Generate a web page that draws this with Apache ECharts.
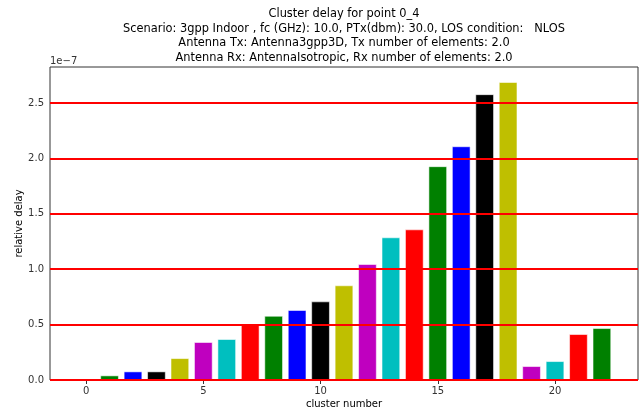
<!DOCTYPE html>
<html>
<head>
<meta charset="utf-8">
<script src="https://cdn.jsdelivr.net/npm/echarts@6/dist/echarts.min.js"></script>
<style>
  html, body { margin: 0; padding: 0; background: #fff; }
  #chart { width: 640px; height: 411px; }
</style>
</head>
<body>
<div id="chart"></div>
<script>
// cluster index and delay (units of 1e-7)
const clusters = [0, 1, 2, 3, 4, 5, 6, 7, 8, 9, 10, 11, 12, 13, 14, 15, 16, 17, 18, 19, 20, 21, 22];
const delays = [0, 0.042, 0.078, 0.078, 0.198, 0.343, 0.37, 0.505, 0.58, 0.632, 0.71,
  0.855, 1.047, 1.288, 1.36, 1.93, 2.11, 2.58, 2.69, 0.126, 0.171, 0.415, 0.469];
const colorCycle = ["#ff0000", "#008000", "#0000ff", "#000000", "#bfbf00", "#bf00bf", "#00bfbf"];
const xTicks = [0, 5, 10, 15, 20];
const refLines = [0, 0.5, 1.0, 1.5, 2.0, 2.5];
const titleLines = [
  "Cluster delay for point 0_4",
  "Scenario: 3gpp Indoor , fc (GHz): 10.0, PTx(dbm): 30.0, LOS condition:   NLOS",
  "Antenna Tx: Antenna3gpp3D, Tx number of elements: 2.0",
  "Antenna Rx: AntennaIsotropic, Rx number of elements: 2.0"
];

const grid = { left: 50, right: 2, top: 67, bottom: 31 };
const xMin = -1.54, xMax = 23.54;
const plotW = 640 - grid.left - grid.right;
const barPx = 0.8 * plotW / (xMax - xMin);

const font = "DejaVu Sans";
const chart = echarts.init(document.getElementById("chart"), null, { renderer: "canvas" });

chart.setOption({
  animation: false,
  backgroundColor: "#fff",
  textStyle: { fontFamily: font },
  grid: { ...grid, outerBoundsMode: "none", containLabel: false, show: true, borderColor: "#333", borderWidth: 1, backgroundColor: "transparent" },
  graphic: [
    {
      type: "text", x: 344, y: 7,
      style: {
        text: titleLines.join("\n"), font: `11.4px "${font}"`, fill: "#000",
        align: "center", verticalAlign: "top", lineHeight: 14.6
      }
    },
    { type: "text", x: 50, y: 56, style: { text: "1e\u22127", font: `10px "${font}"`, fill: "#333" } }
  ],
  xAxis: {
    type: "value",
    min: xMin,
    max: xMax,
    name: "cluster number",
    nameLocation: "middle",
    nameGap: 19,
    nameMoveOverlap: false,
    nameTextStyle: { fontFamily: font, fontSize: 10, color: "#000" },
    axisLine: { show: false },
    splitLine: { show: false },
    axisTick: { show: true, customValues: xTicks, length: 4, lineStyle: { color: "#333" } },
    axisLabel: { customValues: xTicks, fontFamily: font, fontSize: 10, color: "#333", margin: 6 }
  },
  yAxis: {
    type: "value",
    min: 0,
    max: 2.825,
    interval: 0.5,
    name: "relative delay",
    nameLocation: "middle",
    nameGap: 26,
    nameMoveOverlap: false,
    nameTextStyle: { fontFamily: font, fontSize: 10, color: "#000" },
    axisLine: { show: false },
    splitLine: { show: false },
    axisTick: { show: true, length: 4, lineStyle: { color: "#333" } },
    axisLabel: {
      fontFamily: font, fontSize: 10, color: "#333", margin: 6,
      formatter: (v) => v.toFixed(1),
      showMaxLabel: false
    }
  },
  series: [
    {
      type: "bar",
      barWidth: barPx,
      data: clusters.map((c, i) => ({
        value: [c, delays[i]],
        itemStyle: { color: colorCycle[i % colorCycle.length] }
      })),
      itemStyle: { borderColor: "rgba(255,255,255,0.55)", borderWidth: 1 },
      markLine: {
        silent: true,
        symbol: "none",
        label: { show: false },
        lineStyle: { color: "#ff0000", width: 2, type: "solid" },
        data: refLines.map((v) => ({ yAxis: v }))
      },
      z: 2
    }
  ]
});
</script>
</body>
</html>
